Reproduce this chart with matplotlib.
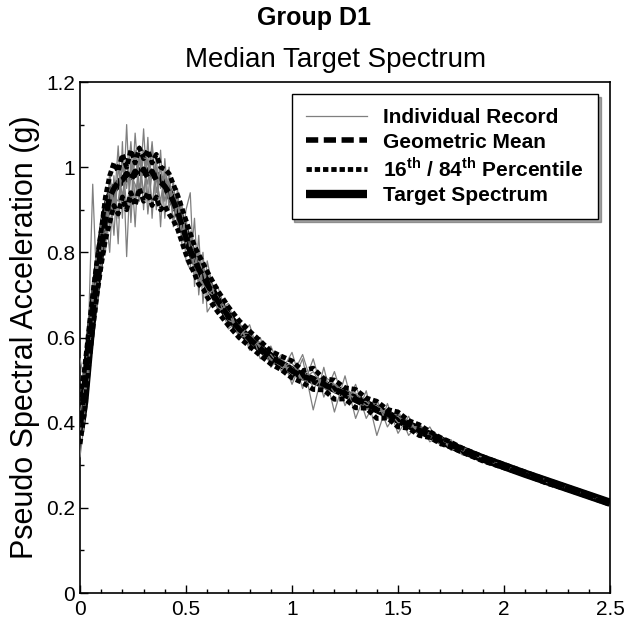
import matplotlib
matplotlib.use("Agg")
import matplotlib.pyplot as plt
from matplotlib.ticker import MultipleLocator

plt.rcParams["font.family"] = ["Liberation Sans", "DejaVu Sans"]
plt.rcParams["mathtext.fontset"] = "custom"
plt.rcParams["mathtext.rm"] = "Liberation Sans"
plt.rcParams["mathtext.bf"] = "Liberation Sans:bold"

period = [0.00, 0.02, 0.04, 0.06, 0.08, 0.10, 0.12, 0.14, 0.16, 0.18,
          0.20, 0.22, 0.24, 0.26, 0.28, 0.30, 0.32, 0.34, 0.36, 0.38,
          0.40, 0.42, 0.44, 0.46, 0.48, 0.50, 0.52, 0.54, 0.56, 0.58,
          0.60, 0.65, 0.70, 0.75, 0.80, 0.85, 0.90, 0.95, 1.00, 1.05,
          1.10, 1.15, 1.20, 1.25, 1.30, 1.35, 1.40, 1.45, 1.50, 1.55,
          1.60, 1.65, 1.70, 1.75, 1.80, 1.90, 2.00, 2.10, 2.20, 2.30,
          2.40, 2.50]

target = [0.38, 0.45, 0.56, 0.66, 0.74, 0.82, 0.89, 0.93, 0.95, 0.96,
          0.97, 0.975, 0.98, 0.985, 0.99, 0.99, 0.99, 0.985, 0.98, 0.97,
          0.96, 0.94, 0.92, 0.90, 0.87, 0.84, 0.81, 0.785, 0.765, 0.745,
          0.73, 0.685, 0.65, 0.62, 0.595, 0.575, 0.555, 0.537, 0.522, 0.51,
          0.50, 0.49, 0.48, 0.468, 0.456, 0.444, 0.432, 0.42, 0.407, 0.395,
          0.383, 0.371, 0.359, 0.347, 0.336, 0.316, 0.298, 0.28, 0.263, 0.246,
          0.229, 0.212]

geo_mean = [0.40, 0.47, 0.57, 0.66, 0.74, 0.81, 0.88, 0.93, 0.95, 0.965,
            0.97, 0.985, 0.97, 0.99, 0.98, 0.995, 0.975, 0.99, 0.97, 0.965,
            0.955, 0.94, 0.92, 0.895, 0.865, 0.835, 0.805, 0.785, 0.76, 0.745,
            0.725, 0.685, 0.65, 0.62, 0.597, 0.575, 0.553, 0.54, 0.522, 0.508,
            0.502, 0.49, 0.478, 0.469, 0.455, 0.446, 0.43, 0.421, 0.406, 0.396,
            0.382, 0.372, 0.358, 0.348, 0.336, 0.315, 0.298, 0.281, 0.262, 0.246,
            0.229, 0.211]

p84 = [0.46, 0.52, 0.61, 0.70, 0.78, 0.85, 0.93, 0.98, 1.01, 0.99,
       1.03, 1.0, 1.04, 1.01, 1.045, 1.02, 1.04, 1.01, 1.03, 1.0,
       0.995, 0.985, 0.96, 0.935, 0.905, 0.875, 0.845, 0.815, 0.795, 0.775,
       0.755, 0.71, 0.672, 0.64, 0.615, 0.592, 0.568, 0.556, 0.545, 0.522,
       0.528, 0.503, 0.50, 0.482, 0.478, 0.458, 0.45, 0.431, 0.425, 0.405,
       0.395, 0.379, 0.365, 0.354, 0.341, 0.320, 0.302, 0.284, 0.266, 0.249,
       0.232, 0.214]

p16 = [0.35, 0.42, 0.53, 0.62, 0.70, 0.77, 0.83, 0.87, 0.91, 0.89,
       0.93, 0.90, 0.94, 0.91, 0.95, 0.92, 0.94, 0.91, 0.93, 0.90,
       0.91, 0.89, 0.875, 0.855, 0.825, 0.795, 0.77, 0.75, 0.725, 0.715,
       0.695, 0.66, 0.628, 0.60, 0.579, 0.558, 0.538, 0.524, 0.505, 0.494,
       0.478, 0.477, 0.455, 0.456, 0.435, 0.434, 0.41, 0.411, 0.39, 0.387,
       0.37, 0.365, 0.351, 0.342, 0.331, 0.310, 0.294, 0.278, 0.258, 0.243,
       0.226, 0.208]

record_a = [0.32, 0.40, 0.62, 0.96, 0.70, 0.86, 0.84, 0.99, 0.90, 1.05,
            0.88, 1.10, 0.87, 1.04, 0.93, 1.09, 0.92, 1.05, 0.90, 1.04,
            0.88, 1.00, 0.86, 0.95, 0.82, 0.90, 0.94, 0.72, 0.84, 0.68,
            0.78, 0.66, 0.68, 0.60, 0.63, 0.55, 0.58, 0.52, 0.565, 0.48,
            0.55, 0.46, 0.52, 0.44, 0.49, 0.41, 0.455, 0.39, 0.43, 0.37,
            0.40, 0.355, 0.37, 0.335, 0.345, 0.312, 0.30, 0.279, 0.266, 0.244,
            0.231, 0.21]

record_b = [0.55, 0.50, 0.58, 0.62, 0.80, 0.76, 0.90, 0.80, 0.98, 0.82,
            1.06, 0.79, 1.02, 0.86, 1.05, 0.90, 1.07, 0.88, 1.03, 0.86,
            1.02, 0.90, 0.97, 0.86, 0.92, 0.78, 0.76, 0.88, 0.70, 0.80,
            0.66, 0.70, 0.62, 0.64, 0.57, 0.60, 0.53, 0.56, 0.49, 0.55,
            0.43, 0.53, 0.425, 0.51, 0.41, 0.475, 0.37, 0.445, 0.375, 0.415,
            0.365, 0.39, 0.345, 0.36, 0.325, 0.32, 0.295, 0.283, 0.26, 0.25,
            0.226, 0.213]

record_c = [0.42, 0.48, 0.50, 0.74, 0.66, 0.88, 0.80, 0.96, 0.84, 1.00,
            0.93, 1.02, 0.90, 1.08, 0.95, 1.00, 0.96, 1.06, 0.94, 1.0,
            0.92, 0.97, 0.90, 0.93, 0.84, 0.88, 0.80, 0.77, 0.80, 0.72,
            0.76, 0.67, 0.66, 0.61, 0.61, 0.575, 0.56, 0.53, 0.54, 0.50,
            0.52, 0.48, 0.49, 0.465, 0.46, 0.44, 0.44, 0.415, 0.415, 0.39,
            0.39, 0.365, 0.36, 0.34, 0.338, 0.318, 0.297, 0.28, 0.262, 0.247,
            0.228, 0.211]

record_d = [0.37, 0.46, 0.60, 0.68, 0.76, 0.80, 0.92, 0.86, 0.93, 0.92,
            1.0, 0.95, 1.06, 0.92, 1.02, 0.94, 1.02, 0.91, 1.0, 0.95,
            0.98, 0.92, 0.94, 0.93, 0.89, 0.84, 0.84, 0.74, 0.78, 0.77,
            0.70, 0.72, 0.64, 0.63, 0.58, 0.59, 0.545, 0.55, 0.51, 0.56,
            0.48, 0.51, 0.49, 0.47, 0.47, 0.43, 0.45, 0.41, 0.42, 0.40,
            0.38, 0.375, 0.355, 0.35, 0.335, 0.315, 0.30, 0.278, 0.264, 0.245,
            0.23, 0.21]

record_e = [0.45, 0.44, 0.54, 0.70, 0.72, 0.84, 0.86, 0.90, 0.97, 0.88,
            1.03, 0.90, 0.98, 0.96, 0.92, 1.04, 0.89, 0.99, 0.97, 0.92,
            0.99, 0.95, 0.88, 0.91, 0.86, 0.82, 0.85, 0.79, 0.73, 0.76,
            0.71, 0.69, 0.66, 0.60, 0.605, 0.58, 0.55, 0.53, 0.53, 0.50,
            0.50, 0.505, 0.47, 0.48, 0.45, 0.45, 0.425, 0.43, 0.40, 0.40,
            0.38, 0.37, 0.36, 0.345, 0.338, 0.316, 0.296, 0.282, 0.26, 0.248,
            0.227, 0.214]

records = [record_a, record_b, record_c, record_d, record_e]

x_ticks = [0, 0.5, 1.0, 1.5, 2.0, 2.5]
x_tick_labels = ["0", "0.5", "1", "1.5", "2", "2.5"]
y_ticks = [0, 0.2, 0.4, 0.6, 0.8, 1.0, 1.2]
y_tick_labels = ["0", "0.2", "0.4", "0.6", "0.8", "1", "1.2"]

fig = plt.figure(figsize=(6.28, 6.19), dpi=100)
ax = fig.add_axes([0.1274, 0.042, 0.844, 0.8255])

ax.plot(period, target, color="black", lw=6, solid_capstyle="butt",
        label="Target Spectrum", zorder=2)
for i, rec in enumerate(records):
    ax.plot(period, rec, color="#7f7f7f", lw=0.9,
            label="Individual Record" if i == 0 else None, zorder=3)
ax.plot(period, geo_mean, color="black", lw=4, dashes=(2.2, 1.0),
        label="Geometric Mean", zorder=4)
ax.plot(period, p84, color="black", lw=3.5, dashes=(1.1, 0.6),
        label=r"16$^{\mathbf{th}}$ / 84$^{\mathbf{th}}$ Percentile", zorder=4)
ax.plot(period, p16, color="black", lw=3.5, dashes=(1.1, 0.6), zorder=4)

ax.set_xlim(0, 2.5)
ax.set_ylim(0, 1.2)
ax.set_xticks(x_ticks)
ax.set_xticklabels(x_tick_labels)
ax.set_yticks(y_ticks)
ax.set_yticklabels(y_tick_labels)
ax.xaxis.set_minor_locator(MultipleLocator(0.1))
ax.yaxis.set_minor_locator(MultipleLocator(0.1))
ax.tick_params(which="both", direction="in", top=False, right=False,
               labelsize=15, width=1)
ax.tick_params(which="major", length=6)
ax.tick_params(which="minor", length=3)
ax.tick_params(axis="x", pad=5)
for sp in ax.spines.values():
    sp.set_linewidth(1.2)

ax.set_ylabel("Pseudo Spectral Acceleration (g)", fontsize=22, labelpad=4)

handles, labels = ax.get_legend_handles_labels()
order = [1, 2, 3, 0]
leg = ax.legend([handles[i] for i in order], [labels[i] for i in order],
                loc="upper right", bbox_to_anchor=(0.977, 0.977),
                borderaxespad=0, frameon=True, fancybox=False, shadow=True,
                edgecolor="black", framealpha=1, handlelength=2.9,
                handletextpad=0.8, labelspacing=0.25, borderpad=0.7,
                prop={"weight": "bold", "size": 15})
leg.get_frame().set_linewidth(1.0)

fig.text(0.5, 1 - 18 / 619, "Group D1", ha="center", va="center",
         fontsize=18, fontweight="bold")
fig.text(0.535, 1 - 60 / 619, "Median Target Spectrum", ha="center",
         va="center", fontsize=20)

fig.savefig("out.png", dpi=100)
